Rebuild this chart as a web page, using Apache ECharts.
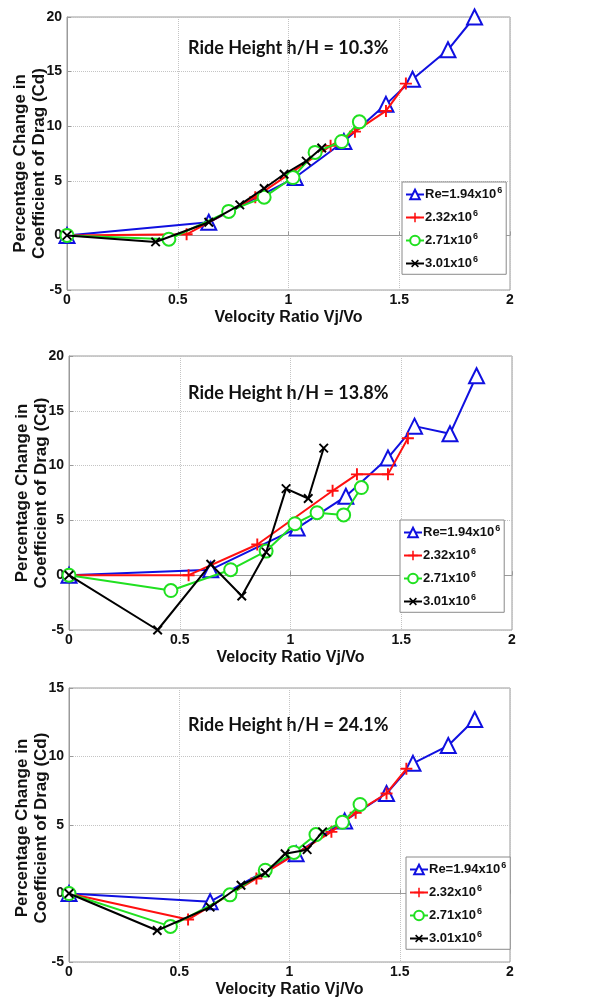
<!DOCTYPE html>
<html>
<head>
<meta charset="utf-8">
<script src="https://cdn.jsdelivr.net/npm/echarts@6/dist/echarts.min.js"></script>
<style>
  html, body { margin: 0; background: #fff; }
  #chart { width: 613px; height: 1001px; }
</style>
</head>
<body>
<div id="chart"></div>
<script>
// legend names (superscript handled in formatter)
const reNames = ['Re=1.94x10', '2.32x10', '2.71x10', '3.01x10']
const rideHeights = ['10.3%', '13.8%', '24.1%']

// velocity ratio Vj/Vo for each Reynolds number
const xRe194 = [0, 0.64, 1.03, 1.25, 1.44, 1.56, 1.72, 1.84]
const xRe232 = [0, 0.54, 0.85, 1.19, 1.30, 1.44, 1.53]
const xRe271 = [0, 0.46, 0.73, 0.89, 1.02, 1.12, 1.24, 1.32]
const xRe301 = [0, 0.40, 0.64, 0.78, 0.89, 0.98, 1.08, 1.15]

// h/H = 10.3%
const cd103Re194 = [0, 1.2, 5.3, 8.6, 12.0, 14.3, 17.0, 20.0]
const cd103Re232 = [0, 0.1, 3.5, 8.2, 9.5, 11.4, 13.9]
const cd103Re271 = [0, -0.35, 2.2, 3.5, 5.3, 7.6, 8.6, 10.4]
const cd103Re301 = [0, -0.6, 1.2, 2.8, 4.3, 5.6, 6.8, 8.0]

// h/H = 13.8%
const cd138Re194 = [0, 0.5, 4.3, 7.2, 10.7, 13.6, 12.9, 18.2]
const cd138Re232 = [0, 0, 2.8, 7.7, 9.2, 9.2, 12.5]
const cd138Re271 = [0, -1.4, 0.5, 2.2, 4.7, 5.7, 5.5, 8.0]
const cd138Re301 = [0, -5.0, 1.0, -1.9, 2.1, 7.9, 7.0, 11.6]

// h/H = 24.1%
const cd241Re194 = [0, -0.6, 2.9, 5.3, 7.3, 9.5, 10.8, 12.7]
const cd241Re232 = [0, -1.9, 1.1, 4.5, 5.9, 7.3, 9.1]
const cd241Re271 = [0, -2.4, -0.1, 1.7, 3.0, 4.3, 5.2, 6.5]
const cd241Re301 = [0, -2.7, -1.0, 0.6, 1.5, 2.9, 3.2, 4.5]

const yMaxes = [20, 20, 15]

const xs = [xRe194, xRe232, xRe271, xRe301]
const panelData = [
    [cd103Re194, cd103Re232, cd103Re271, cd103Re301],
    [cd138Re194, cd138Re232, cd138Re271, cd138Re301],
    [cd241Re194, cd241Re232, cd241Re271, cd241Re301]
]

const grids = [
    { left: 67, top: 17, width: 443, height: 273 },
    { left: 69, top: 356, width: 443, height: 274 },
    { left: 69, top: 688, width: 441, height: 274 }
]
const legendPos = [
    { left: 402, top: 182 },
    { left: 400, top: 520 },
    { left: 406, top: 857 }
]
const titleY = [48, 393, 725]
// nudge of the y label along the axis (first panel sits a little low)
const yNamePad = [[0, 20, 0, 0], [0, 0, 0, 0], [0, 6, 0, 0]]

const plusPath = 'path://M4.2,0H5.8V10H4.2Z M0,4.2H10V5.8H0Z'
const styles = [
    { color: '#1010e0', symbol: 'emptyTriangle', symbolSize: 15, rotate: 0 },
    { color: '#ff1010', symbol: plusPath, symbolSize: 12, rotate: 0 },
    { color: '#20e020', symbol: 'emptyCircle', symbolSize: 13, rotate: 0 },
    { color: '#000000', symbol: plusPath, symbolSize: 12, rotate: 45 }
]

const font = 'Liberation Sans'

const option = {
    animation: false,
    backgroundColor: '#fff',
    grid: grids.map(g => Object.assign({
        show: true, borderColor: '#9a9a9a', borderWidth: 1, backgroundColor: '#fff',
        containLabel: false, outerBoundsMode: 'none'
    }, g)),
    xAxis: grids.map((g, i) => ({
        type: 'value',
        gridIndex: i,
        min: 0,
        max: 2,
        interval: 0.5,
        name: 'Velocity Ratio Vj/Vo',
        nameLocation: 'middle',
        nameGap: 20,
        nameMoveOverlap: false,
        nameTextStyle: { fontFamily: font, fontWeight: 'bold', fontSize: 16, color: '#111' },
        axisLine: { show: true, lineStyle: { color: '#9a9a9a' } },
        axisTick: { show: true, inside: true, length: 4, lineStyle: { color: '#9a9a9a' } },
        axisLabel: { fontFamily: font, fontWeight: 'bold', fontSize: 14, color: '#111', margin: 3 },
        splitLine: { show: true, lineStyle: { color: '#c4c4c4', type: 'dotted' } }
    })),
    yAxis: grids.map((g, i) => ({
        type: 'value',
        gridIndex: i,
        min: -5,
        max: yMaxes[i],
        interval: 5,
        name: 'Percentage Change in\nCoefficient of Drag (Cd)',
        nameLocation: 'middle',
        nameGap: 18,
        nameMoveOverlap: false,
        nameTextStyle: {
            fontFamily: font, fontWeight: 'bold', fontSize: 17, color: '#111', lineHeight: 19,
            padding: yNamePad[i]
        },
        axisLine: { show: true, lineStyle: { color: '#9a9a9a' } },
        axisTick: { show: true, inside: true, length: 4, lineStyle: { color: '#9a9a9a' } },
        axisLabel: { fontFamily: font, fontWeight: 'bold', fontSize: 14, color: '#111', margin: 5 },
        splitLine: { show: true, lineStyle: { color: '#c4c4c4', type: 'dotted' } }
    })),
    legend: legendPos.map(p => ({
        left: p.left,
        top: p.top,
        orient: 'vertical',
        data: reNames,
        itemWidth: 18,
        itemHeight: 12,
        itemGap: 8,
        padding: [4, 4, 4, 3],
        borderColor: '#8a8a8a',
        borderWidth: 1,
        backgroundColor: '#fff',
        selectedMode: false,
        formatter: name => '{a|' + name + '}{s|6}',
        textStyle: {
            padding: [0, 0, 0, -4],
            rich: {
                a: { fontFamily: font, fontWeight: 'bold', fontSize: 13, color: '#111', lineHeight: 18 },
                s: { fontFamily: font, fontWeight: 'bold', fontSize: 9, color: '#111', padding: [0, 0, 8, 1] }
            }
        }
    })),
    graphic: rideHeights.map((h, i) => ({
        type: 'text',
        left: 188,
        top: titleY[i] - 9,
        style: {
            text: 'Ride Height h/H = ' + h,
            fontFamily: 'Lato',
            fontWeight: 'bold',
            fontSize: 18,
            fill: '#111'
        }
    })),
    series: []
}

panelData.forEach((set, p) => {
    set.forEach((vals, k) => {
        const st = styles[k]
        option.series.push({
            name: reNames[k],
            type: 'line',
            xAxisIndex: p,
            yAxisIndex: p,
            data: xs[k].map((x, j) => [x, vals[j]]),
            symbol: st.symbol,
            symbolSize: st.symbolSize,
            symbolRotate: st.rotate,
            symbolKeepAspect: true,
            showAllSymbol: true,
            lineStyle: { color: st.color, width: 2 },
            itemStyle: { color: st.color, borderColor: st.color, borderWidth: st.symbol.indexOf('empty') === 0 ? 1.6 : 0 },
            z: 2 + k
        })
    })
})

const myChart = echarts.init(document.getElementById('chart'))
myChart.setOption(option)
</script>
</body>
</html>
